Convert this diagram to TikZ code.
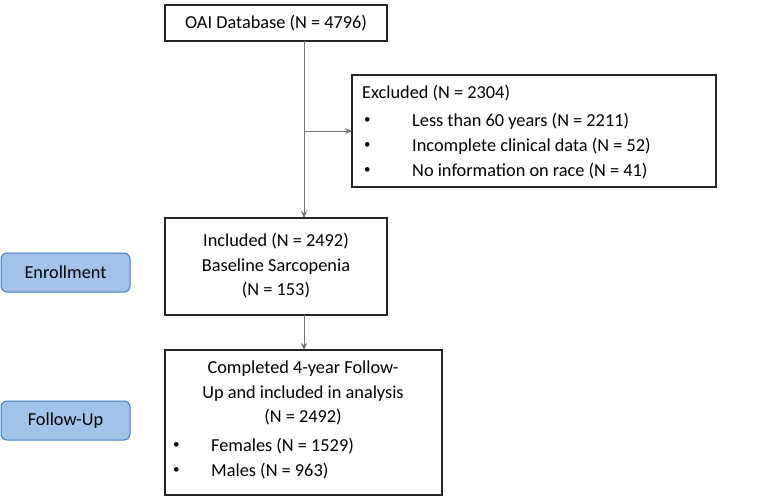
\documentclass[tikz,border=0pt]{standalone}
\usepackage{fontspec}
\setmainfont{Carlito}
\usetikzlibrary{arrows.meta}
\definecolor{phfill}{HTML}{A4C3E9}
\definecolor{phline}{HTML}{3F7CC4}
\begin{document}
\begin{tikzpicture}[x=1pt,y=-1pt,
  box/.style={draw=black!85,line width=1.1pt,fill=white},
  phase/.style={draw=phline,fill=phfill,rounded corners=6pt,line width=1pt},
  txt/.style={font=\fontsize{18.3}{24.5}\selectfont,inner sep=0pt},
  bul/.style={font=\fontsize{13}{15}\selectfont,inner sep=0pt},
  conn/.style={draw=black!55,line width=0.9pt,-{Stealth[length=7pt,width=6pt]}}]
\useasboundingbox (0,0) rectangle (775,496);
\draw[box] (165,5) rectangle (387,41);
\node[txt] (top) at (276,23) {OAI Database (N = 4796)};
\draw[box] (352,75) rectangle (716,187);
\node[txt,anchor=west] (ex) at (362,93) {Excluded (N = 2304)};
\node[bul,anchor=west] at (364,121) {•};
\node[txt,anchor=west] at (412,121) {Less than 60 years (N = 2211)};
\node[bul,anchor=west] at (364,146) {•};
\node[txt,anchor=west] at (412,146) {Incomplete clinical data (N = 52)};
\node[bul,anchor=west] at (364,171) {•};
\node[txt,anchor=west] at (412,171) {No information on race (N = 41)};
\draw[box] (165,218) rectangle (387,315);
\node[txt,align=center] (inc) at (276,266) {Included (N = 2492)\\Baseline Sarcopenia\\(N = 153)};
\draw[box] (165,350) rectangle (442,495);
\node[txt,align=center] (comp) at (303,393) {Completed 4-year Follow-\\Up and included in analysis\\(N = 2492)};
\node[bul,anchor=west] at (173,446) {•};
\node[txt,anchor=west] at (211,446) {Females (N = 1529)};
\node[bul,anchor=west] at (173,471) {•};
\node[txt,anchor=west] at (211,471) {Males (N = 963)};
\coordinate (a1) at (304,41);
\coordinate (a2) at (304,218);
\coordinate (b1) at (304,131);
\coordinate (b2) at (352,131);
\coordinate (c1) at (304,315);
\coordinate (c2) at (304,350);
\draw[conn] (a1) -- (a2);
\draw[conn] (b1) -- (b2);
\draw[conn] (c1) -- (c2);
\draw[phase] (1,253) rectangle (130,292);
\node[txt] (enr) at (65.5,272.5) {Enrollment};
\draw[phase] (1,401) rectangle (130,440);
\node[txt] (fu) at (65.5,420.5) {Follow-Up};
\end{tikzpicture}
\end{document}
